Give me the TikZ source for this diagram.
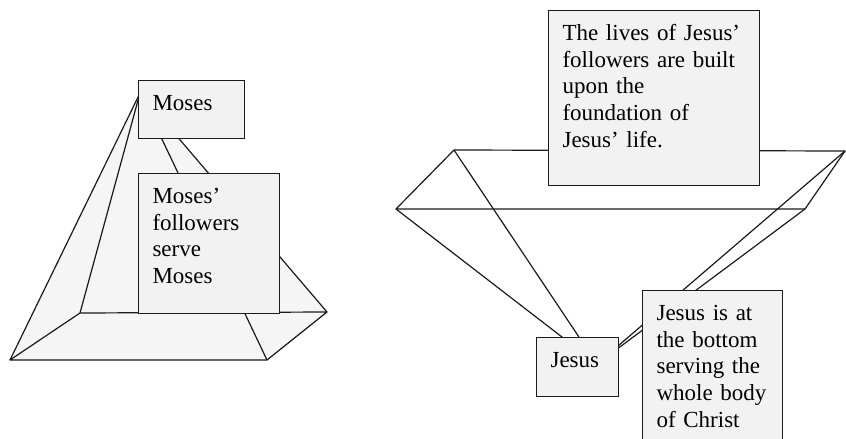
\documentclass[tikz,border=0pt]{standalone}
\usepackage{fontspec}
\setmainfont{Liberation Serif}
\definecolor{cardgray}{HTML}{F2F2F2}
\definecolor{facegray}{HTML}{F5F5F5}
\definecolor{inkgray}{HTML}{1A1A1A}
\tikzset{
	card/.style={draw=inkgray, fill=cardgray, line width=1.1pt, anchor=north west, align=left,
		inner xsep=14pt, inner ysep=14pt, text height=16pt,
		font={\fontsize{23pt}{26.7pt}\selectfont}},
	edge/.style={draw=inkgray, line width=1.2pt, line join=round},
}
\begin{document}
\begin{tikzpicture}[x=1pt, y=-1pt]
		\clip (0,0) rectangle (846,439);
		% pyramid of Moses
		\coordinate (m_apex) at (140,93);
		\coordinate (m_fl) at (10,360);
		\coordinate (m_fr) at (267,360);
		\coordinate (m_br) at (327,312);
		\coordinate (m_bl) at (80,313);
		\path [fill=facegray] (m_fl) -- (m_fr) -- (m_br) -- (m_apex) -- cycle;
		\path [edge] (m_fl) -- (m_fr) -- (m_br) -- (m_bl) -- cycle;
		\path [edge] (m_apex) -- (m_fl);
		\path [edge] (m_apex) -- (m_bl);
		\path [edge] (m_apex) -- (m_fr);
		\path [edge] (m_apex) -- (m_br);
		\node[card, text width=78pt, text depth=14pt] (moses) at (138,80) {Moses};
		\node[card, text width=113pt, text depth=96pt] (moses_followers) at (138,173) {Moses’\\followers\\serve\\Moses};
		% upside-down pyramid of Jesus
		\coordinate (j_apex) at (597,364);
		\coordinate (j_fl) at (396,209);
		\coordinate (j_fr) at (805,209);
		\coordinate (j_br) at (845,151);
		\coordinate (j_bl) at (454,150);
		\path [edge] (j_fl) -- (j_fr) -- (j_br) -- (j_bl) -- cycle;
		\path [edge] (j_apex) -- (j_fl);
		\path [edge] (j_apex) -- (j_bl);
		\path [edge] (j_apex) -- (j_fr);
		\path [edge] (j_apex) -- (j_br);
		\node[card, text width=183pt, text depth=131pt] (jesus_followers) at (548,10) {The lives of Jesus’\\followers are built\\upon the\\foundation of\\Jesus’ life.};
		\node[card, text width=54pt, text depth=15pt] (jesus) at (536,337) {Jesus};
		\node[card, text width=112pt, text depth=126pt] (jesus_serves) at (642,290) {Jesus is at\\the bottom\\serving the\\whole body\\of Christ};
	\end{tikzpicture}
\end{document}
